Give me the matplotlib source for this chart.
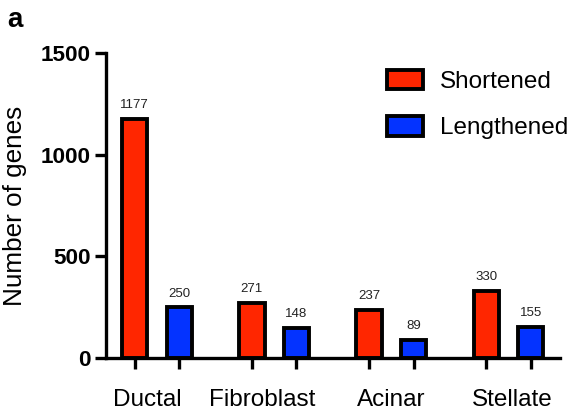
import matplotlib.pyplot as plt
import numpy as np

plt.rcParams['font.family'] = ['Liberation Sans', 'DejaVu Sans']

cells = ['Ductal', 'Fibroblast', 'Acinar', 'Stellate']
shortened = [1177, 271, 237, 330]
lengthened = [250, 148, 89, 155]
yticks = [0, 500, 1000, 1500]

red = '#FF2600'
blue = '#0433FF'

fig = plt.figure(figsize=(5.72, 4.19), dpi=100)
ax = fig.add_axes([0.1853, 0.145, 0.7937, 0.729])

x = np.arange(len(cells))
off = 0.19
w = 0.215
b1 = ax.bar(x - off, shortened, w, color=red, edgecolor='black', linewidth=2.8,
            label='Shortened')
b2 = ax.bar(x + off, lengthened, w, color=blue, edgecolor='black', linewidth=2.8,
            label='Lengthened')

for bars, vals in ((b1, shortened), (b2, lengthened)):
    for r, v in zip(bars, vals):
        ax.text(r.get_x() + r.get_width() / 2, v + 38, str(v), ha='center',
                va='bottom', fontsize=9.5, color='#222222')

ax.set_xlim(-0.436, 3.44)
ax.set_ylim(0, 1500)
ax.spines['top'].set_visible(False)
ax.spines['right'].set_visible(False)
ax.spines['left'].set_linewidth(2.4)
ax.spines['bottom'].set_linewidth(2.4)

ax.set_yticks(yticks)
ax.set_yticklabels([str(t) for t in yticks], fontsize=16.2, fontweight='bold')
ax.tick_params(axis='y', length=8, width=2.4, pad=3)

# ticks under each bar, category names roughly centred on each group
ax.set_xticks(np.concatenate([x - off, x + off]))
ax.set_xticklabels([])
ax.tick_params(axis='x', which='major', length=8, width=2.4)
label_shift = np.array([-0.085, -0.1, 0.0, 0.034])
ax.set_xticks(x + label_shift, minor=True)
ax.set_xticklabels(cells, minor=True, fontsize=17.5)
ax.tick_params(axis='x', which='minor', length=0, pad=22)

ax.set_ylabel('Number of genes', fontsize=18.8)
ax.yaxis.set_label_coords(-0.175, 0.5)

leg = ax.legend(loc='upper left', bbox_to_anchor=(0.57, 1.015), fontsize=17.5,
                frameon=False, handlelength=1.5, handleheight=0.85,
                labelspacing=0.95, handletextpad=0.7)
for p in leg.get_patches():
    p.set_linewidth(2.8)

fig.text(0.012, 0.935, 'a', fontsize=20, fontweight='bold')

fig.savefig('out.png', dpi=100)
